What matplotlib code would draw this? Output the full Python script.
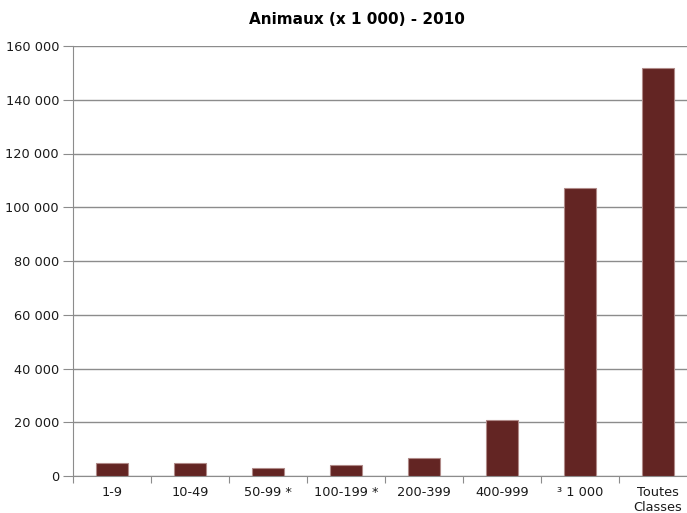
import matplotlib.pyplot as plt

# Data
categories = ["1-9", "10-49", "50-99 *", "100-199 *", "200-399", "400-999", "³ 1 000", "Toutes\nClasses"]
animaux = [4850, 4750, 3000, 3950, 6600, 20700, 107000, 151700]
yticks = [0, 20000, 40000, 60000, 80000, 100000, 120000, 140000, 160000]
ytick_labels = ["0", "20 000", "40 000", "60 000", "80 000", "100 000", "120 000", "140 000", "160 000"]

plt.rcParams["font.family"] = "DejaVu Sans"

fig = plt.figure(figsize=(6.87, 5.13), dpi=100)
ax = fig.add_axes([73 / 687, 37 / 513, 614 / 687, 430 / 513])

x = range(len(categories))
ax.bar(x, animaux, width=0.4, color="#632523", edgecolor="#b08a88", linewidth=0.8, zorder=3)

ax.set_ylim(0, 160000)
ax.set_xlim(-0.5, -0.5 + 614 / 78)
ax.set_yticks(yticks)
ax.set_yticklabels(ytick_labels, fontsize=9.3, color="#1a1a1a")
ax.yaxis.grid(True, color="#8c8c8c", linewidth=1, zorder=0)

# category ticks sit between bars, labels under bars
ax.set_xticks([i - 0.5 for i in x], minor=False)
ax.set_xticklabels([])
ax.set_xticks(list(x), minor=True)
ax.set_xticklabels(categories, minor=True, fontsize=9.3, color="#1a1a1a")
ax.tick_params(axis="x", which="minor", length=0, pad=7)
ax.tick_params(axis="x", which="major", length=5, color="#8c8c8c", direction="out")
ax.tick_params(axis="y", length=7, color="#8c8c8c", pad=3)

for side in ["top", "right"]:
    ax.spines[side].set_visible(False)
ax.spines["left"].set_color("#8c8c8c")
ax.spines["bottom"].set_color("#8c8c8c")

fig.text(357 / 687, 1 - 20 / 513, "Animaux (x 1 000) - 2010", ha="center", va="center",
         fontsize=11, fontweight="bold")

plt.savefig("out.png", dpi=100)
